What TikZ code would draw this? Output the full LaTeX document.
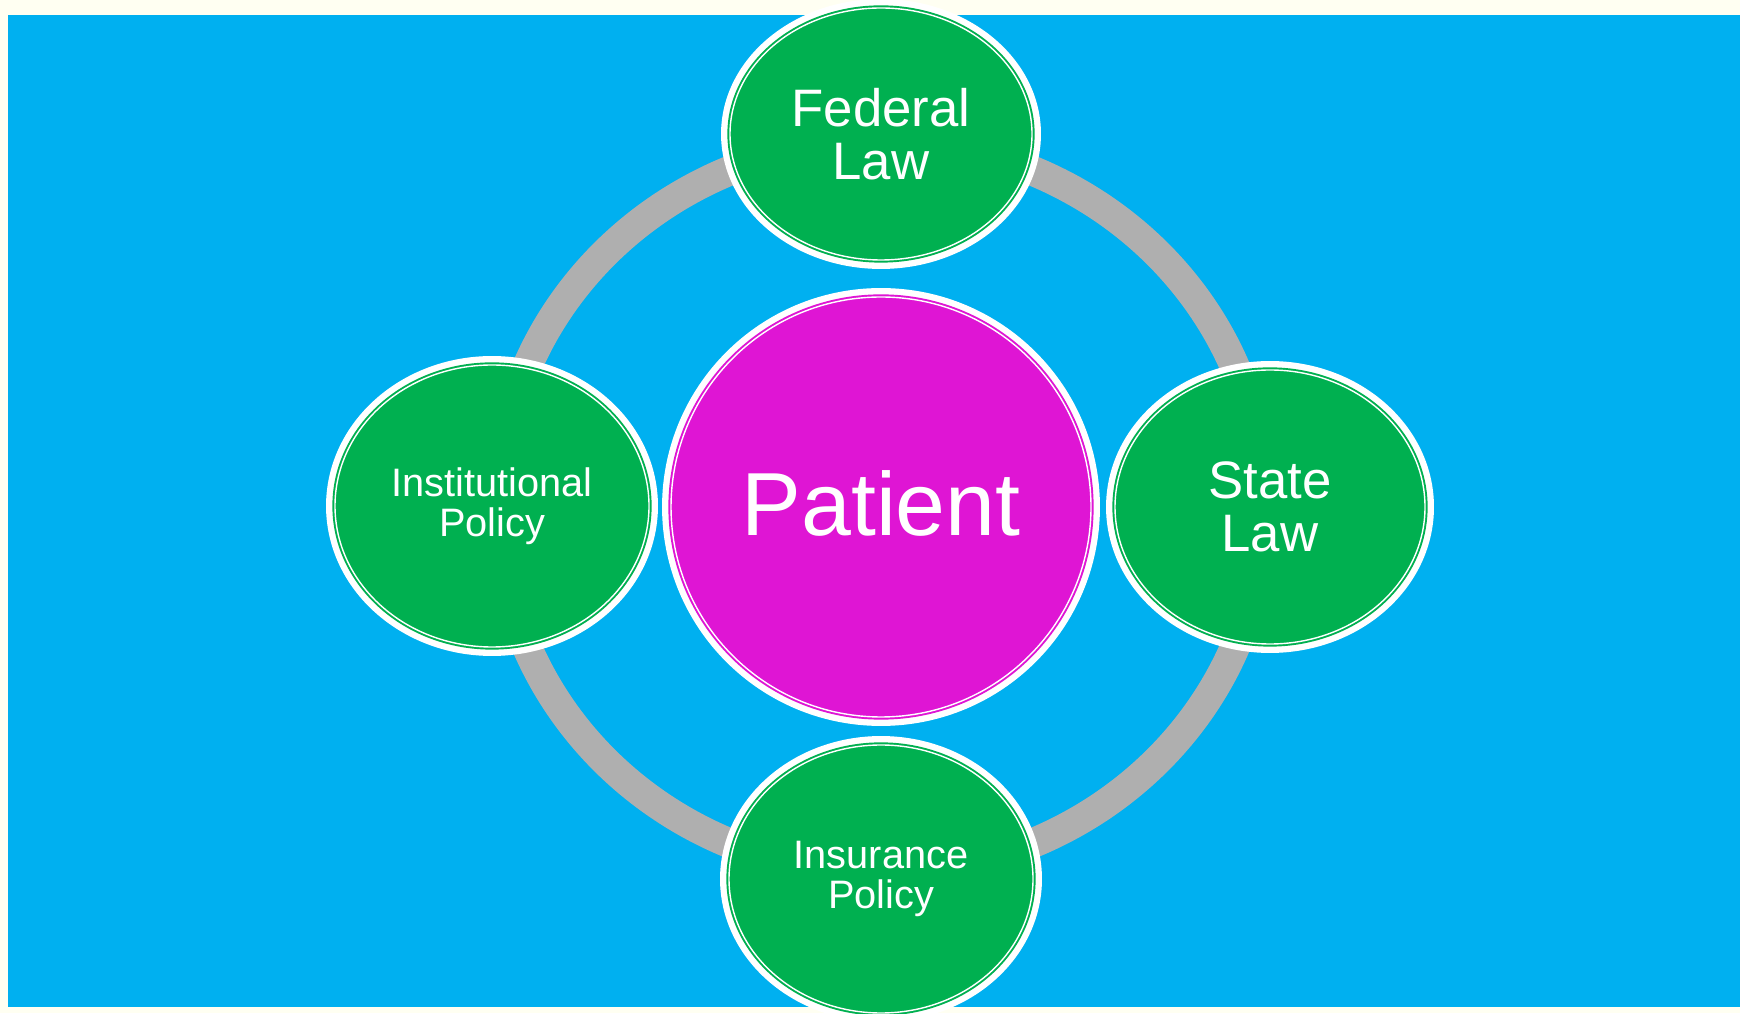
\documentclass[tikz,border=0pt]{standalone}
\usepackage{fontspec}
\setmainfont{Liberation Sans}
\usepackage{tikz}
\usetikzlibrary{positioning}
\usetikzlibrary{shapes.geometric}
\pgfdeclarelayer{background}
\pgfdeclarelayer{foreground}
\pgfsetlayers{background,main,foreground}
\definecolor{cream}{RGB}{255,255,242}
\definecolor{panelblue}{RGB}{0,176,240}
\definecolor{lawgreen}{RGB}{0,176,80}
\definecolor{patientpink}{RGB}{223,21,212}
\definecolor{ringgray}{RGB}{175,175,175}

\begin{document}
\begin{tikzpicture}[x=0.2cm,y=0.2cm,
		bubble/.style={ellipse, fill=#1, draw=white, line width=0.8pt, inner sep=0pt, text=white, align=center,
			preaction={draw=white, line width=3.6pt, double=#1, double distance=3pt}},
		bigtext/.style={font=\fontsize{30}{30.5}\selectfont},
		smalltext/.style={font=\fontsize{22.6}{23}\selectfont},
		ring/.style={draw=ringgray, line width=17pt}]
				\useasboundingbox (0,0) rectangle (174,101.3);
				%Nodes
				\node[bubble=patientpink, circle, minimum size=8.4cm, text depth=0.16cm, font=\fontsize{51}{51}\selectfont] (patient) at (88.1,50.6) {Patient};
				\node[bubble=lawgreen, bigtext, minimum width=6.04cm, minimum height=5.04cm] (federal) at (88.1,87.9) {Federal\\Law};
				\node[bubble=lawgreen, smalltext, minimum width=6.28cm, minimum height=5.64cm] (institutional) at (49.2,50.7) {Institutional\\Policy};
				\node[bubble=lawgreen, bigtext, minimum width=6.2cm, minimum height=5.48cm] (state) at (127.0,50.6) {State\\Law};
				\node[bubble=lawgreen, smalltext, minimum width=6.08cm, minimum height=5.36cm] (insurance) at (88.1,13.4) {Insurance\\Policy};

				%Background and ring
				\begin{pgfonlayer}{background}
					\fill[cream] (0,0) rectangle (174,101.3);
					\fill[panelblue] (0.8,0.6) rectangle (174,99.8);
					\draw[ring] (patient.center) ellipse [x radius=7.66cm, y radius=7.32cm];
				\end{pgfonlayer}
		\end{tikzpicture}
\end{document}
